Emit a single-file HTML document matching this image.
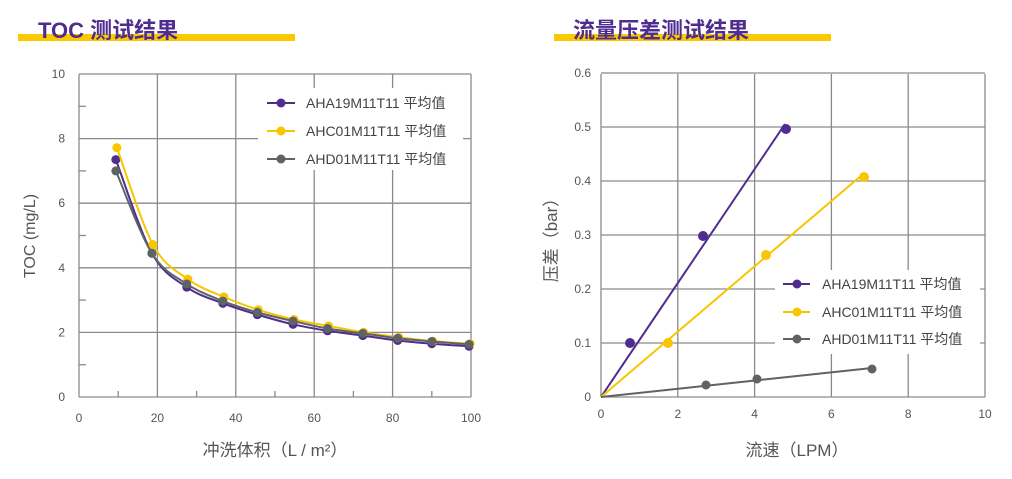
<!DOCTYPE html>
<html><head><meta charset="utf-8"><style>
html,body{margin:0;padding:0;background:#fff;}
svg{display:block;font-family:"Liberation Sans","Noto Sans CJK SC",sans-serif;}
</style></head><body>
<svg id="s" width="1012" height="479" viewBox="0 0 1012 479" xmlns="http://www.w3.org/2000/svg">
<rect x="18" y="34" width="277" height="7" fill="#fcc800"/>
<text x="38" y="38" font-size="22" font-weight="bold" fill="#4f2d8f">TOC 测试结果</text>
<rect x="554" y="34" width="277" height="7" fill="#fcc800"/>
<text x="573" y="38" font-size="22" font-weight="bold" fill="#4f2d8f">流量压差测试结果</text>
<g id="g"></g>
</svg>
<script>
var g=document.getElementById('g'),h='';
var P='#4f2d8f',Y='#f7c600',G='#5f6366',GR='#8a8a8a';
function L(x1,y1,x2,y2,c,w){h+='<line x1="'+x1+'" y1="'+y1+'" x2="'+x2+'" y2="'+y2+'" stroke="'+c+'" stroke-width="'+w+'"/>';}
function T(x,y,s,a,sz,c,extra){h+='<text x="'+x+'" y="'+y+'" font-size="'+sz+'" fill="'+(c||'#555')+'" text-anchor="'+(a||'start')+'" '+(extra||'')+'>'+s+'</text>';}
function C(x,y,r,c){h+='<circle cx="'+x+'" cy="'+y+'" r="'+r+'" fill="'+c+'"/>';}
var lx=v=>79+3.92*v, ly=v=>397-32.3*v;
for(var v=0;v<=100;v+=20)L(lx(v),74,lx(v),397,GR,1.3);
for(var v=0;v<=10;v+=2)L(79,ly(v),471,ly(v),GR,1.3);
for(var v=10;v<100;v+=20)L(lx(v),397,lx(v),391,GR,1.3);
for(var v=1;v<10;v+=2)L(79,ly(v),86,ly(v),GR,1.3);
for(var v=0;v<=10;v+=2)T(65,ly(v)+4,v,'end',12);
for(var v=0;v<=100;v+=20)T(lx(v),422,v,'middle',12);
var xs=[9.4,18.6,27.5,36.7,45.5,54.6,63.4,72.4,81.3,90,99.5];
var dP=[7.35,4.45,3.4,2.9,2.55,2.25,2.05,1.9,1.75,1.65,1.57];
var dY=[7.72,4.72,3.65,3.1,2.7,2.4,2.2,2.0,1.85,1.73,1.65];
var dG=[7.0,4.45,3.5,2.97,2.62,2.35,2.12,1.97,1.82,1.72,1.63];
function curve(d,c,dx){var p=xs.map((x,i)=>[lx(x)+dx,ly(d[i])]);var s='M'+p[0];
for(var i=0;i<p.length-1;i++){var p0=p[i-1]||p[i],p1=p[i],p2=p[i+1],p3=p[i+2]||p2;
s+=' C'+(p1[0]+(p2[0]-p0[0])/6)+','+(p1[1]+(p2[1]-p0[1])/6)+' '+(p2[0]-(p3[0]-p1[0])/6)+','+(p2[1]-(p3[1]-p1[1])/6)+' '+p2[0]+','+p2[1];}
h+='<path d="'+s+'" fill="none" stroke="'+c+'" stroke-width="2"/>';p.forEach(q=>C(q[0],q[1],4.5,c));}
curve(dP,P,0);curve(dY,Y,1);curve(dG,G,0);
h+='<rect x="258" y="88" width="205" height="82" fill="#fff"/>';
[[P,'AHA19M11T11 平均值',103],[Y,'AHC01M11T11 平均值',131],[G,'AHD01M11T11 平均值',159]].forEach(a=>{L(267,a[2],295,a[2],a[0],2);C(281,a[2],4.5,a[0]);T(306,a[2]+5,a[1],'start',14,'#444');});
T(0,0,'TOC (mg/L)','middle',16,'#555','transform="translate(35,236) rotate(-90)"');
T(275,456,'冲洗体积（L / m²）','middle',17,'#555');
var rx=v=>601+38.4*v, ry=v=>397-540*v;
for(var v=0;v<=10;v+=2)L(rx(v),74,rx(v),397,GR,1.3);
for(var i=0;i<=6;i++)L(601,ry(i/10),985,ry(i/10),GR,1.3);
for(var i=0;i<=6;i++)T(591,ry(i/10)+4,i==0?'0':(i/10).toFixed(1),'end',12);
for(var v=0;v<=10;v+=2)T(rx(v),418,v,'middle',12);
L(601,397,785,124,P,2);[[630,343],[703,236],[786,129]].forEach(q=>C(q[0],q[1],5,P));
L(601,397,862,175,Y,2);[[668,343],[766,255],[864,177]].forEach(q=>C(q[0],q[1],5,Y));
L(601,397,872,368,G,2);[[706,385],[757,379],[872,369]].forEach(q=>C(q[0],q[1],4.5,G));
h+='<rect x="775" y="270" width="205" height="84" fill="#fff"/>';
[[P,'AHA19M11T11 平均值',284],[Y,'AHC01M11T11 平均值',312],[G,'AHD01M11T11 平均值',339]].forEach(a=>{L(783,a[2],810,a[2],a[0],2);C(797,a[2],4.5,a[0]);T(822,a[2]+5,a[1],'start',14,'#444');});
T(0,0,'压差（bar）','middle',17,'#555','transform="translate(557,236) rotate(-90)"');
T(797,456,'流速（LPM）','middle',17,'#555');
g.innerHTML=h;
</script>
</body></html>
